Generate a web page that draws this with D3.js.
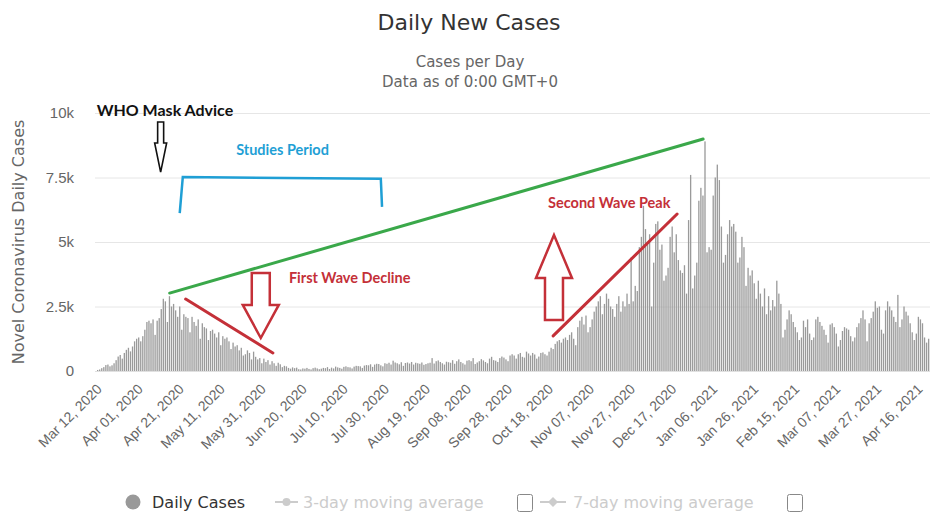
<!DOCTYPE html>
<html lang="en">
<head>
<meta charset="UTF-8">
<title>Daily New Cases</title>
<script src="https://cdn.jsdelivr.net/npm/d3@7/dist/d3.min.js"></script>
<style>
    body { margin: 0; background: #fff; }
    svg { display: block; font-family: "DejaVu Sans", sans-serif; }
    .grid line { stroke: #e6e6e6; }
    .grid path { display: none; }
    .yAxis path, .yAxis line { display: none; }
    .yAxis text { fill: #666; font-size: 15px; }
    .xAxis path { stroke: #e0e0e0; }
    .xAxis text { fill: #666; font-size: 14px; }
    .note { font-family: Lato, sans-serif; font-weight: bold; }
</style>
</head>
<body>
<script>
    // daily new cases, one value per day from Mar 12, 2020
    let startDate = new Date(2020, 2, 12);
    let mar2020 = [40, 60, 110, 150, 230, 250, 180, 220, 300, 420, 560, 620, 480, 700, 820, 900, 760, 950, 1150, 1250];
    let apr2020 = [1300, 1150, 1350, 1600, 1900, 1950, 1850, 2000, 1400, 1950, 2050, 2400, 2800, 2700, 1900, 2900, 2500, 2600, 2350, 2100,
        2500, 1600, 2200, 2100, 2050, 1500, 2100, 1900, 1750, 2000];
    let may2020 = [1250, 1850, 1700, 1650, 1200, 1550, 1600, 1450, 1300, 1500, 1000, 1350, 1250, 1300, 1150, 850, 1100, 950, 1000, 800,
        900, 600, 650, 800, 700, 450, 750, 550, 450, 500, 300];
    let jun2020 = [480, 350, 420, 250, 380, 300, 200, 320, 260, 150, 200, 180, 120, 90, 140, 110, 130, 70, 60, 100,
        90, 120, 80, 60, 110, 130, 100, 70, 90, 120];
    let jul2020 = [110, 150, 80, 130, 100, 170, 140, 120, 90, 160, 180, 150, 140, 100, 170, 200, 190, 180, 120, 210,
        230, 220, 260, 160, 250, 280, 270, 220, 180, 300, 280];
    let aug2020 = [320, 250, 400, 330, 300, 260, 340, 200, 310, 330, 290, 350, 250, 320, 300, 280, 330, 240, 270, 300,
        320, 500, 290, 380, 410, 350, 300, 250, 360, 340, 320];
    let sep2020 = [420, 280, 380, 450, 350, 300, 250, 400, 420, 380, 500, 270, 330, 380, 460, 410, 350, 300, 480, 550,
        420, 400, 350, 500, 560, 520, 450, 380, 600, 650];
    let oct2020 = [600, 480, 650, 700, 550, 520, 750, 680, 600, 700, 640, 480, 560, 700, 720, 650, 600, 750, 900, 850,
        1050, 1150, 1200, 1100, 1250, 1300, 1200, 1400, 1500, 1250, 1000];
    let nov2020 = [1700, 1950, 2100, 1800, 2150, 1500, 1700, 2000, 2300, 2500, 2700, 2900, 2200, 2600, 3000, 2800, 2500, 2400, 2100, 2600,
        2900, 2300, 2700, 2500, 3000, 2600, 4400, 2700, 3300, 3100];
    let dec2020 = [4800, 5200, 6400, 5500, 5000, 5300, 2500, 4200, 5700, 5800, 4700, 4900, 3500, 3700, 4000, 5200, 5600, 4600, 5300, 4300,
        3900, 3800, 4100, 3000, 5850, 7600, 3200, 3700, 4200, 6600, 7100];
    let jan2021 = [6800, 8900, 4600, 4800, 4700, 6800, 7500, 8000, 7400, 5600, 4200, 4500, 5300, 5850, 5600, 5700, 5400, 4200, 4400, 5200,
        4800, 3300, 4000, 3700, 3900, 3400, 2800, 3500, 3000, 2500, 3200];
    let feb2021 = [2200, 2900, 2350, 2750, 2500, 3500, 3000, 2600, 1300, 1600, 2000, 2350, 2200, 1900, 1700, 1500, 1200, 1300, 1950, 1700,
        2000, 1450, 1200, 1300, 2000, 2100, 1900, 1750];
    let mar2021 = [1600, 1400, 1100, 1800, 1850, 1700, 1450, 950, 1200, 1550, 1700, 1650, 1600, 1350, 1150, 1300, 1700, 1850, 2050, 2350,
        2000, 1150, 1850, 2050, 2300, 2700, 2450, 2500, 1600, 1450, 2350];
    let apr2021 = [2700, 2500, 2350, 2100, 1900, 2950, 1700, 2000, 2500, 2300, 2150, 1850, 1500, 1200, 1450, 2100, 2000, 1850, 1300, 1100,
        1250];

    let dailyCases = [].concat(mar2020, apr2020, may2020, jun2020, jul2020, aug2020, sep2020,
        oct2020, nov2020, dec2020, jan2021, feb2021, mar2021, apr2021);
    let dates = dailyCases.map(function (d, i) { return d3.timeDay.offset(startDate, i); });

    let yTicks = [0, 2500, 5000, 7500, 10000];
    let yTickLabels = ['0', '2.5k', '5k', '7.5k', '10k'];
    let tickEvery = 20;
    let legendNames = ['Daily Cases', '3-day moving average', '7-day moving average'];

    // canvas
    let width = 930, height = 514;
    let plot = {left: 97, top: 113, bottom: 371, right: 930};

    let svg = d3.select('body').append('svg')
        .attr('width', width)
        .attr('height', height);

    let xScale = d3.scaleBand()
        .domain(dates)
        .range([plot.left, plot.left + dates.length * 2.05])
        .paddingInner(0.36);

    // day index -> pixel, for the drawn-on notes
    let dayScale = d3.scaleLinear()
        .domain([0, dates.length - 1])
        .range([xScale(dates[0]) + xScale.bandwidth() / 2,
            xScale(dates[dates.length - 1]) + xScale.bandwidth() / 2]);

    let yScale = d3.scaleLinear()
        .domain([0, 10000])
        .range([plot.bottom, plot.top]);

    // grid
    svg.append('g')
        .attr('class', 'grid')
        .attr('transform', 'translate(' + (plot.left - 2) + ',0)')
        .call(d3.axisRight(yScale).tickValues(yTicks.slice(1)).tickSize(plot.right - plot.left + 2).tickFormat(''));

    // y axis labels
    svg.append('g')
        .attr('class', 'yAxis')
        .attr('transform', 'translate(74,0)')
        .call(d3.axisLeft(yScale).tickValues(yTicks).tickSize(0).tickPadding(0)
            .tickFormat(function (d, i) { return yTickLabels[i]; }));

    svg.append('text')
        .attr('transform', 'translate(24,' + ((plot.top + plot.bottom) / 2) + ') rotate(-90)')
        .attr('text-anchor', 'middle')
        .style('font-size', '16px')
        .style('fill', '#666')
        .text('Novel Coronavirus Daily Cases');

    // bars
    svg.append('g').selectAll('rect')
        .data(dailyCases)
        .enter()
        .append('rect')
        .attr('x', function (d, i) { return xScale(dates[i]); })
        .attr('y', function (d) { return yScale(d); })
        .attr('width', xScale.bandwidth())
        .attr('height', function (d) { return yScale(0) - yScale(d); })
        .style('fill', '#9a9a9a');

    // x axis
    let xAxis = d3.axisBottom(xScale)
        .tickValues(dates.filter(function (d, i) { return i % tickEvery === 0; }))
        .tickFormat(d3.timeFormat('%b %d, %Y'))
        .tickSize(0);

    let gx = svg.append('g')
        .attr('class', 'xAxis')
        .attr('transform', 'translate(0,' + plot.bottom + ')')
        .call(xAxis);
    gx.select('.domain').attr('d', 'M' + (plot.left - 2) + ',0.5H' + plot.right);
    gx.selectAll('text')
        .attr('x', 0).attr('y', 0).attr('dy', 0)
        .attr('text-anchor', 'end')
        .attr('transform', 'translate(5,19) rotate(-45)');

    // titles
    svg.append('text')
        .attr('x', 469).attr('y', 30)
        .attr('text-anchor', 'middle')
        .style('font-size', '22px')
        .style('fill', '#333')
        .text('Daily New Cases');
    svg.append('text')
        .attr('x', 470).attr('y', 67)
        .attr('text-anchor', 'middle')
        .style('font-size', '15px')
        .style('fill', '#666')
        .text('Cases per Day');
    svg.append('text')
        .attr('x', 470).attr('y', 87)
        .attr('text-anchor', 'middle')
        .style('font-size', '15px')
        .style('fill', '#666')
        .text('Data as of 0:00 GMT+0');

    // legend
    let legend = svg.append('g').attr('transform', 'translate(0,502)');
    legend.append('circle').attr('cx', 133).attr('cy', 0).attr('r', 7.5).style('fill', '#999');
    legend.append('text').attr('x', 152).attr('y', 6).style('font-size', '16px').style('fill', '#333').text(legendNames[0]);

    legend.append('line').attr('x1', 275).attr('x2', 298).attr('y1', 0).attr('y2', 0)
        .style('stroke', '#ccc').style('stroke-width', 2);
    legend.append('circle').attr('cx', 286.5).attr('cy', 0).attr('r', 4).style('fill', '#ccc');
    legend.append('text').attr('x', 303).attr('y', 6).style('font-size', '16px').style('fill', '#ccc').text(legendNames[1]);
    legend.append('rect').attr('x', 517.5).attr('y', -7.5).attr('width', 15).attr('height', 17).attr('rx', 2)
        .style('fill', '#fff').style('stroke', '#888');

    legend.append('line').attr('x1', 540).attr('x2', 566).attr('y1', 0).attr('y2', 0)
        .style('stroke', '#ccc').style('stroke-width', 2);
    legend.append('path').attr('d', 'M553,-5L558,0L553,5L548,0Z').style('fill', '#ccc');
    legend.append('text').attr('x', 573).attr('y', 6).style('font-size', '16px').style('fill', '#ccc').text(legendNames[2]);
    legend.append('rect').attr('x', 787.5).attr('y', -7.5).attr('width', 15).attr('height', 17).attr('rx', 2)
        .style('fill', '#fff').style('stroke', '#888');

    /* drawn-on notes, placed in day / case units */
    let notes = svg.append('g');

    function noteLine(d1, v1, d2, v2, color) {
        notes.append('line')
            .attr('x1', dayScale(d1)).attr('y1', yScale(v1))
            .attr('x2', dayScale(d2)).attr('y2', yScale(v2))
            .style('stroke', color).style('stroke-width', 3).style('stroke-linecap', 'round');
    }

    // hollow block arrow; pointing from vFrom toward vTip
    function blockArrow(day, vFrom, vHead, vTip, shaft, head, color, sw) {
        let cx = dayScale(day);
        let y0 = yScale(vFrom), y1 = yScale(vHead), y2 = yScale(vTip);
        let p = d3.path();
        p.moveTo(cx - shaft, y0);
        p.lineTo(cx + shaft, y0);
        p.lineTo(cx + shaft, y1);
        p.lineTo(cx + head, y1);
        p.lineTo(cx, y2);
        p.lineTo(cx - head, y1);
        p.lineTo(cx - shaft, y1);
        p.closePath();
        notes.append('path').attr('d', p.toString())
            .style('fill', '#fff').style('stroke', color).style('stroke-width', sw)
            .style('stroke-linejoin', 'miter');
    }

    function noteText(day, v, txt, color, size) {
        notes.append('text')
            .attr('class', 'note')
            .attr('x', dayScale(day)).attr('y', yScale(v))
            .attr('dy', '0.35em')
            .style('fill', color).style('font-size', size + 'px')
            .text(txt);
    }

    // WHO mask advice
    noteText(-0.5, 10100, 'WHO Mask Advice', '#111', 16);
    blockArrow(30.7, 9650, 8840, 7710, 3, 6, '#111', 1.6);

    // studies period bracket
    let blue = '#1f9fd5';
    notes.append('path')
        .attr('d', d3.line()([[dayScale(40), yScale(6120)], [dayScale(41.5), yScale(7520)],
            [dayScale(138), yScale(7450)], [dayScale(138.6), yScale(6360)]]))
        .style('fill', 'none').style('stroke', blue).style('stroke-width', 2.5);
    noteText(67.5, 8570, 'Studies Period', blue, 14.5);

    // trend line
    noteLine(35.1, 3020, 295.1, 8990, '#3aa84a');

    // first wave
    let red = '#c43038';
    noteLine(42.9, 2790, 85.4, 700, red);
    blockArrow(79.5, 3800, 2560, 1280, 9, 18, red, 2.5);
    noteText(93.2, 3600, 'First Wave Decline', red, 14.5);

    // second wave
    noteLine(222, 1360, 282.4, 6085, red);
    blockArrow(222.4, 1980, 3600, 5270, 9, 18, red, 2.5);
    noteText(219.5, 6500, 'Second Wave Peak', red, 14.5);
</script>
</body>
</html>
